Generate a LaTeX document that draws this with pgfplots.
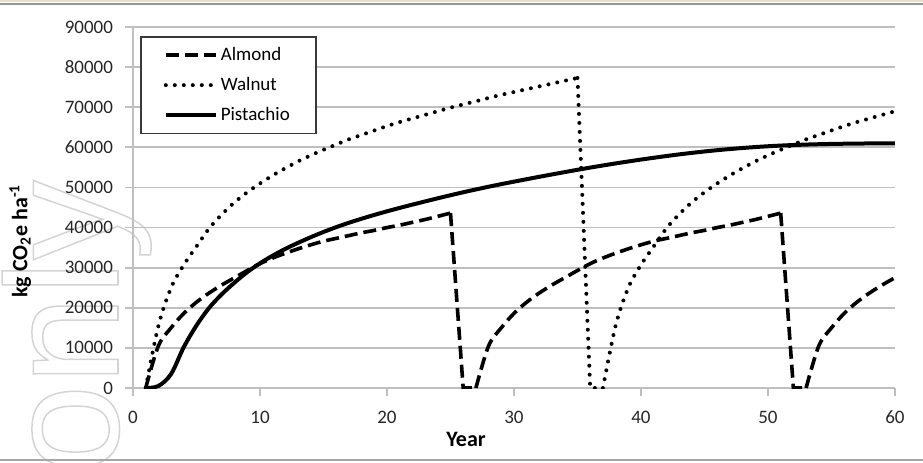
\documentclass[border=0pt]{standalone}
\usepackage{fontspec}
\setmainfont{Carlito}
\newfontfamily\wmfont{Liberation Sans}
\usepackage{pgfplots}
\usepackage{pgfplotstable}
\pgfplotsset{compat=1.18}

\definecolor{gridgray}{RGB}{191,191,191}
\definecolor{wmgray}{RGB}{212,212,212}
\definecolor{topbeige}{RGB}{236,222,205}

% year, almond, walnut, pistachio  (kg CO2e per ha)
\pgfplotstableread{
year almond walnut pistachio
1  0     0     0
2  10500 15500 500
3  15000 25000 3500
4  18600 30700 10200
5  21400 35300 15600
6  23700 39800 20000
7  25700 43300 23400
8  27500 46300 26300
9  29300 48800 28900
10 31000 51000 31100
11 32400 53000 33000
12 33600 54800 34700
13 34700 56500 36200
14 35700 58000 37600
15 36600 59400 38900
16 37300 60700 40100
17 38000 62000 41200
18 38700 63100 42200
19 39300 64200 43150
20 40000 65300 44050
21 40600 66300 44900
22 41300 67200 45720
23 42000 68100 46520
24 42800 69000 47300
25 43600 69900 48060
26 0     70700 48800
27 0     71500 49500
28 10500 72300 50180
29 15000 73100 50830
30 18600 73800 51450
31 21400 74500 52060
32 23700 75200 52660
33 25700 75900 53250
34 27500 76600 53830
35 29300 77300 54400
36 31000 0     54950
37 32400 0     55480
38 33600 15500 55990
39 34700 25000 56480
40 35700 30700 56950
41 36600 35300 57400
42 37300 39800 57830
43 38000 43300 58240
44 38700 46300 58620
45 39300 48800 58970
46 40000 51000 59290
47 40600 53000 59580
48 41300 54800 59840
49 42000 56500 60070
50 42800 58000 60270
51 43600 59400 60440
52 0     60700 60580
53 0     62000 60690
54 10500 63100 60780
55 15000 64200 60850
56 18600 65300 60900
57 21400 66300 60940
58 23700 67200 60970
59 25700 68100 60990
60 27500 69000 61000
}\datatable

\pgfplotsset{
  almond/.style={black, line width=1.8pt, dash pattern=on 6.5pt off 3pt},
  walnut/.style={black, line width=2pt, line cap=round, dash pattern=on 0pt off 4.5pt},
  pistachio/.style={black, line width=2pt},
  curve/.style={smooth, tension=0.55},
}

\begin{document}
\begin{tikzpicture}
\useasboundingbox (0pt,0pt) rectangle (461.5pt,231pt);

% faint outlined watermark at the left
\node[rotate=90, anchor=base west, inner sep=0pt, text=wmgray,
      font=\wmfont\fontsize{80}{80}\selectfont] at (59pt,-6pt)
  {\special{pdf:literal direct 1 Tr 0.75 w}only\special{pdf:literal direct 0 Tr}};

% page rules
\draw[topbeige, line width=1pt] (0pt,230.6pt) -- (461.5pt,230.6pt);
\draw[black!42, line width=1.3pt] (0pt,229pt) -- (461.5pt,229pt);
\draw[black!35, line width=0.8pt] (0pt,1pt) -- (461.5pt,1pt);

\begin{axis}[
    at={(66.5pt,37pt)}, anchor=south west,
    scale only axis, width=381pt, height=180.5pt,
    xmin=0, xmax=60, ymin=0, ymax=90000,
    axis x line=bottom, axis y line=left,
    axis line style={-, gridgray, line width=0.9pt},
    xtick={0,10,...,60}, ytick={0,10000,...,90000},
    tick style={gridgray, line width=0.9pt},
    tick align=outside, major tick length=4pt,
    ymajorgrids, grid style={gridgray, line width=0.9pt},
    scaled y ticks=false,
    /pgf/number format/fixed,
    /pgf/number format/1000 sep={},
    /pgf/number format/assume math mode=true,
    ticklabel style={font=\fontsize{9.5}{10}\selectfont, text=black!85},
    xticklabel style={yshift=-4pt},
    yticklabel style={xshift=-2.5pt},
    xlabel={Year},
    xlabel style={at={(axis description cs:0.437,-0.163)}, anchor=base,
                  font=\bfseries\fontsize{11}{12}\selectfont},
    ylabel={kg CO\textsubscript{2}e ha\textsuperscript{-1}},
    ylabel style={at={(axis description cs:-0.148,0.407)}, anchor=center,
                  font=\bfseries\fontsize{11}{12}\selectfont},
    legend cell align=left,
    legend image code/.code={\draw[#1] (0pt,0pt) -- (25pt,0pt);},
    legend style={at={(axis description cs:0.0092,0.975)}, anchor=north west,
                  draw=black!78, line width=0.8pt, fill=white,
                  inner xsep=11.5pt, inner ysep=3.5pt, row sep=4pt,
                  font=\fontsize{9.5}{10}\selectfont,
                  nodes={inner sep=1.5pt}},
]
% almond: three growth cycles, cleared and replanted at years 26 and 52
\addplot[almond, curve, restrict x to domain=1:25] table[x=year, y=almond] {\datatable};
\addlegendentry{Almond}
\addplot[almond, forget plot, restrict x to domain=25:27] table[x=year, y=almond] {\datatable};
\addplot[almond, curve, forget plot, restrict x to domain=27:51] table[x=year, y=almond] {\datatable};
\addplot[almond, forget plot, restrict x to domain=51:53] table[x=year, y=almond] {\datatable};
\addplot[almond, curve, forget plot, restrict x to domain=53:60] table[x=year, y=almond] {\datatable};

% walnut: replanted at year 36
\addplot[walnut, curve, restrict x to domain=1:35] table[x=year, y=walnut] {\datatable};
\addlegendentry{Walnut}
\addplot[walnut, forget plot, restrict x to domain=35:37] table[x=year, y=walnut] {\datatable};
\addplot[walnut, curve, forget plot, restrict x to domain=37:60] table[x=year, y=walnut] {\datatable};

% pistachio: one long cycle
\addplot[pistachio, curve] table[x=year, y=pistachio] {\datatable};
\addlegendentry{Pistachio}
\end{axis}
\end{tikzpicture}
\end{document}
